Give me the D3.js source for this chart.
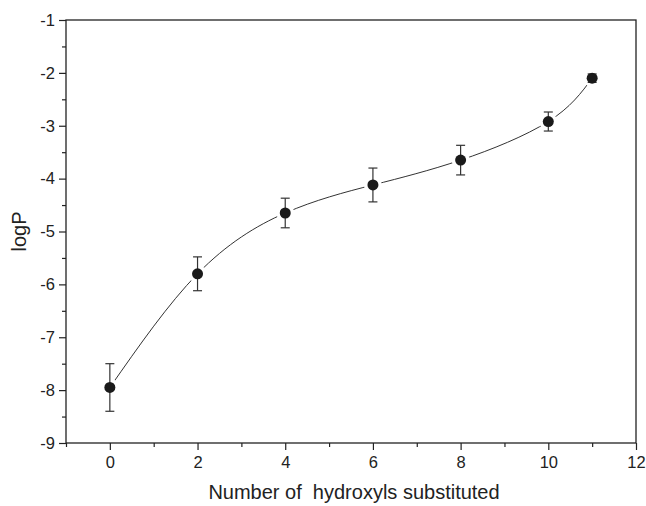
<!DOCTYPE html>
<html>
<head>
<meta charset="utf-8">
<script src="https://cdn.jsdelivr.net/npm/d3@7"></script>
<style>
  body { margin: 0; background: #fff; }
  svg text { font-family: "Liberation Sans", Arial, sans-serif; fill: #222; }
</style>
</head>
<body>
<svg id="chart" width="646" height="506"></svg>
<script>
const xValues = [0, 2, 4, 6, 8, 10, 11];
const yValues = [-7.95, -5.80, -4.65, -4.12, -3.65, -2.92, -2.10];
const yErrors = [0.45, 0.32, 0.28, 0.32, 0.28, 0.18, 0.08];
const xTicks = [0, 2, 4, 6, 8, 10, 12];
const yTicks = [-9, -8, -7, -6, -5, -4, -3, -2, -1];
const xLabel = "Number of  hydroxyls substituted";
const yLabel = "logP";

const svg = d3.select("#chart");
const m = { left: 66, right: 646 - 636, top: 20, bottom: 506 - 443 };
const W = 646, H = 506;

const x = d3.scaleLinear().domain([-1, 12]).range([m.left, W - m.right]);
const y = d3.scaleLinear().domain([-9, -1]).range([H - m.bottom, m.top]);
const fmt = d => String(d);

// frame
svg.append("rect")
  .attr("x", x(-1)).attr("y", y(-1))
  .attr("width", x(12) - x(-1)).attr("height", y(-9) - y(-1))
  .attr("fill", "none").attr("stroke", "#222").attr("stroke-width", 1.3);

// x axis
const xAxis = d3.axisBottom(x).tickValues(xTicks).tickSize(7).tickPadding(6).tickFormat(fmt);
svg.append("g").attr("transform", `translate(0,${y(-9)})`).call(xAxis);
const xMinor = d3.axisBottom(x).tickValues(d3.range(-1, 12, 2)).tickSize(4).tickFormat("");
svg.append("g").attr("transform", `translate(0,${y(-9)})`).call(xMinor);

// y axis
const yAxis = d3.axisLeft(y).tickValues(yTicks).tickSize(7).tickPadding(4).tickFormat(fmt);
svg.append("g").attr("transform", `translate(${x(-1)},0)`).call(yAxis);
const yMinor = d3.axisLeft(y).tickValues(d3.range(-8.5, -1, 1)).tickSize(4).tickFormat("");
svg.append("g").attr("transform", `translate(${x(-1)},0)`).call(yMinor);

svg.selectAll(".domain").remove();
svg.selectAll(".tick line").attr("stroke", "#222").attr("stroke-width", 1.2);
svg.selectAll(".tick text").style("font-size", "16.5px").style("fill", "#222")
  .style("font-family", "Liberation Sans, Arial, sans-serif");

// axis titles
svg.append("text")
  .attr("x", (x(-1) + x(12)) / 2 + 3).attr("y", 499)
  .attr("text-anchor", "middle").style("font-size", "20px")
  .attr("xml:space", "preserve").style("white-space", "pre")
  .text(xLabel);
svg.append("text")
  .attr("transform", `translate(26,${(y(-1) + y(-9)) / 2}) rotate(-90)`)
  .attr("text-anchor", "middle").style("font-size", "20px")
  .text(yLabel);

const data = xValues.map((v, i) => ({ x: v, y: yValues[i], e: yErrors[i] }));

// spline
const line = d3.line().x(d => x(d.x)).y(d => y(d.y)).curve(d3.curveNatural);
svg.append("path").datum(data).attr("d", line)
  .attr("fill", "none").attr("stroke", "#333").attr("stroke-width", 1);

// gaps around markers
svg.selectAll(".gap").data(data).enter().append("circle")
  .attr("cx", d => x(d.x)).attr("cy", d => y(d.y)).attr("r", 9).attr("fill", "#fff");

// error bars
const eb = svg.selectAll(".eb").data(data).enter().append("g").attr("stroke", "#333").attr("stroke-width", 1.2);
eb.append("line").attr("x1", d => x(d.x)).attr("x2", d => x(d.x))
  .attr("y1", d => y(d.y + d.e)).attr("y2", d => y(d.y - d.e));
eb.append("line").attr("x1", d => x(d.x) - 4.5).attr("x2", d => x(d.x) + 4.5)
  .attr("y1", d => y(d.y + d.e)).attr("y2", d => y(d.y + d.e));
eb.append("line").attr("x1", d => x(d.x) - 4.5).attr("x2", d => x(d.x) + 4.5)
  .attr("y1", d => y(d.y - d.e)).attr("y2", d => y(d.y - d.e));

// markers
svg.selectAll(".pt").data(data).enter().append("circle")
  .attr("cx", d => x(d.x)).attr("cy", d => y(d.y)).attr("r", 5.5).attr("fill", "#1a1a1a");
</script>
</body>
</html>
